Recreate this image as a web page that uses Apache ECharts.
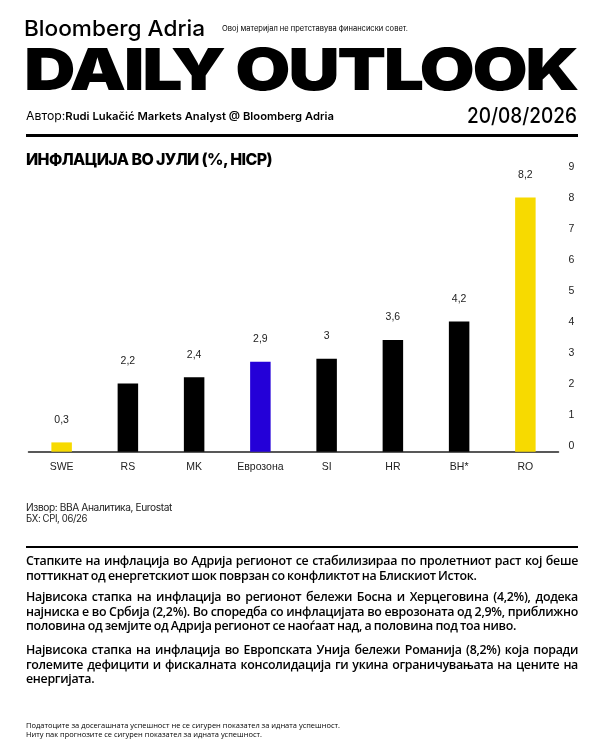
<!DOCTYPE html>
<html>
<head>
<meta charset="utf-8">
<script src="https://cdn.jsdelivr.net/npm/echarts@6/dist/echarts.min.js"></script>
<style>
  html, body { margin: 0; padding: 0; background: #fff; }
  #page { position: relative; width: 600px; height: 750px; overflow: hidden; }
  #chart { position: absolute; left: 0; top: 0; width: 600px; height: 750px; }
  .t { position: absolute; white-space: nowrap; color: #000; transform-origin: left center; z-index: 2; }
  .fit { display: inline-block; }
  .rule { position: absolute; left: 26px; width: 552px; background: #000; z-index: 2; }
  .para { position: absolute; left: 26px; width: 600px; font-family: "Open Sans", "Noto Sans", sans-serif;
          font-weight: 600; font-size: 12.4px; line-height: 14.5px; color: #000; z-index: 2;
          letter-spacing: -0.3px; word-spacing: -0.5px; }
  .para div { display: block; height: 14.5px; white-space: nowrap; }
  .para span { display: inline-block; transform-origin: left center; }
</style>
</head>
<body>
<div id="page">
  <div id="chart"></div>

  <div class="t fit" id="brand" style="left:24px; top:17px; font-family:Inter; font-weight:500; font-size:22px; line-height:22px;">Bloomberg Adria</div>
  <div class="t fit" id="disc" style="left:222px; top:25px; font-family:Inter; font-size:7.5px; line-height:8px;">Овој материјал не претставува финансиски совет.</div>
  <div class="t fit" id="big" style="left:24px; top:40px; font-family:Inter; font-weight:900; font-size:58px; line-height:58px; letter-spacing:-2px;">DAILY OUTLOOK</div>
  <div class="t fit" id="author" style="left:26px; top:109px; font-family:Inter; font-size:12px; line-height:14px;">Автор:<span style="font-weight:600; font-size:11px;">Rudi Lukačić Markets Analyst @ Bloomberg Adria</span></div>
  <div class="t fit" id="date" style="left:467px; top:105px; font-family:Inter; font-weight:500; font-size:21px; line-height:22px;">20/08/2026</div>
  <div class="rule" style="top:134px; height:2.5px;"></div>

  <div class="t fit" id="ctitle" style="left:26px; top:151px; font-family:Inter; font-weight:800; font-size:16px; line-height:16px; letter-spacing:-0.6px;">ИНФЛАЦИЈА ВО ЈУЛИ (%, HICP)</div>
  <div class="t fit" id="src1" style="left:26px; top:502px; font-family:Inter; font-size:10px; line-height:11px; color:#222; letter-spacing:-0.4px;">Извор: BBA Аналитика, Eurostat</div>
  <div class="t fit" id="src2" style="left:26px; top:513px; font-family:Inter; font-size:10px; line-height:11px; color:#222; letter-spacing:-0.4px;">БХ: CPI, 06/26</div>

  <div class="rule" style="top:545.5px; height:2.5px;"></div>
  <div class="para" style="top:554px;">
    <div><span class="full">Стапките на инфлација во Адрија регионот се стабилизираа по пролетниот раст кој беше</span></div>
    <div><span>поттикнат од енергетскиот шок поврзан со конфликтот на Блискиот Исток.</span></div>
  </div>
  <div class="para" style="top:590px;">
    <div><span class="full">Највисока стапка на инфлација во регионот бележи Босна и Херцеговина (4,2%), додека</span></div>
    <div><span class="full">најниска е во Србија (2,2%). Во споредба со инфлацијата во еврозоната од 2,9%, приближно</span></div>
    <div><span>половина од земјите од Адрија регионот се наоѓаат над, а половина под тоа ниво.</span></div>
  </div>
  <div class="para" style="top:643px;">
    <div><span class="full">Највисока стапка на инфлација во Европската Унија бележи Романија (8,2%) која поради</span></div>
    <div><span class="full">големите дефицити и фискалната консолидација ги укина ограничувањата на цените на</span></div>
    <div><span>енергијата.</span></div>
  </div>

  <div class="t fit" id="foot1" style="left:26px; top:720px; font-family:'Open Sans'; font-size:8px; line-height:9px;">Податоците за досегашната успешност не се сигурен показател за идната успешност.</div>
  <div class="t fit" id="foot2" style="left:26px; top:729px; font-family:'Open Sans'; font-size:8px; line-height:9px;">Ниту пак прогнозите се сигурен показател за идната успешност.</div>
</div>

<script>
// July inflation, % (HICP)
const categories = ['SWE', 'RS', 'MK', 'Еврозона', 'SI', 'HR', 'BH*', 'RO'];
const inflation = [0.3, 2.2, 2.4, 2.9, 3, 3.6, 4.2, 8.2];
const yellowCats = ['SWE', 'RO'];
const blueCats = ['Еврозона'];
const yMin = 0, yMax = 9, yStep = 1;

// squeeze texts to the widths of the original
function fitEl(el, w) {
  const nat = el.getBoundingClientRect().width;
  el.style.transform = 'scaleX(' + (w / nat) + ')';
}
function fit(id, w) { fitEl(document.getElementById(id), w); }
fit('brand', 181);
fit('disc', 186);
fit('big', 553);
fit('author', 308);
fit('date', 110);
fit('ctitle', 246);
fit('src1', 146);
fit('src2', 61);
fit('foot1', 314);
fit('foot2', 236);
// justified paragraph lines: stretch full lines to the column width
document.querySelectorAll('.para span.full').forEach(function (s) {
  const nat = s.getBoundingClientRect().width;
  const words = s.textContent.split(' ');
  if (nat < 552) {
    s.style.wordSpacing = ((552 - nat) / (words.length - 1) - 0.5) + 'px';
  } else {
    fitEl(s, 552);
  }
});

function barColor(name) {
  if (yellowCats.indexOf(name) >= 0) return '#F7DA00';
  if (blueCats.indexOf(name) >= 0) return '#2400D8';
  return '#000';
}

let myChart = echarts.init(document.getElementById('chart'));
myChart.setOption({
  animation: false,
  grid: { left: 28.5, right: 41.5, top: 172.7, bottom: 298.3 },
  xAxis: {
    type: 'category',
    data: categories,
    axisLine: { lineStyle: { color: '#222', width: 1.5 } },
    axisTick: { show: false },
    axisLabel: { color: '#222', fontSize: 10.5, fontFamily: 'Liberation Sans', margin: 10 }
  },
  yAxis: {
    type: 'value',
    position: 'right',
    min: yMin, max: yMax, interval: yStep,
    splitLine: { show: false },
    axisLine: { show: false },
    axisTick: { show: false },
    axisLabel: { color: '#222', fontSize: 10.5, fontFamily: 'Liberation Sans', margin: 10,
                 verticalAlign: 'bottom', lineHeight: 12 }
  },
  series: [{
    type: 'bar',
    barWidth: 20.5,
    data: inflation.map(function (v, i) {
      return { value: v, itemStyle: { color: barColor(categories[i]) } };
    }),
    label: {
      show: true,
      position: 'top',
      distance: 17,
      color: '#222',
      fontSize: 10.5,
      fontFamily: 'Liberation Sans',
      formatter: function (p) { return String(p.value).replace('.', ','); }
    }
  }]
});
</script>
</body>
</html>
